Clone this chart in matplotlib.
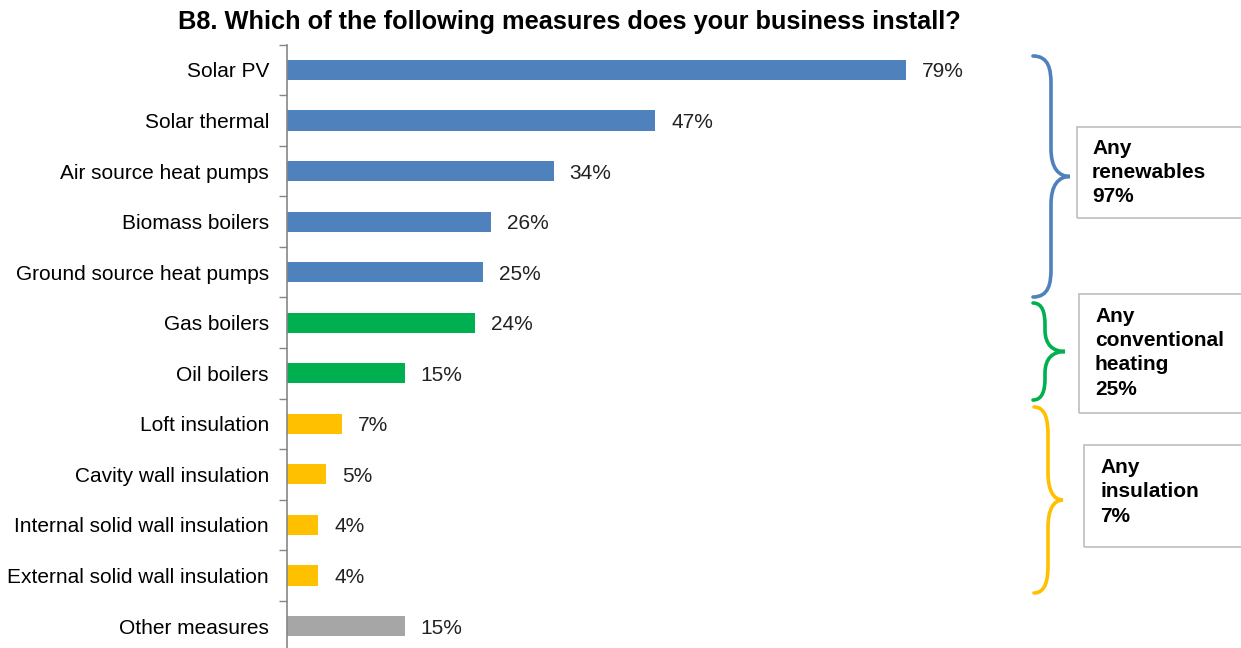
import numpy as np
import matplotlib
matplotlib.use("Agg")
from matplotlib import pyplot as plt
from matplotlib.path import Path
from matplotlib.patches import PathPatch, Rectangle

plt.rcParams['font.family'] = ['Liberation Sans', 'DejaVu Sans']

# data
measures = ["Solar PV", "Solar thermal", "Air source heat pumps", "Biomass boilers",
            "Ground source heat pumps", "Gas boilers", "Oil boilers", "Loft insulation",
            "Cavity wall insulation", "Internal solid wall insulation",
            "External solid wall insulation", "Other measures"]
values = [79, 47, 34, 26, 25, 24, 15, 7, 5, 4, 4, 15]
groups = ["ren", "ren", "ren", "ren", "ren", "conv", "conv", "ins", "ins", "ins", "ins", "other"]
group_labels = ["Any\nrenewables\n97%", "Any\nconventional\nheating\n25%", "Any\ninsulation\n7%"]

colors = {"ren": "#4F81BD", "conv": "#00B050", "ins": "#FFC000", "other": "#A6A6A6"}

W, H = 1241, 648


def fx(x):
    return x / W


def fy(y):
    return 1 - y / H


def brace(fig, x0, y0, y1, xs, xt, color):
    ym = (y0 + y1) / 2
    r = min(28, (ym - y0) * 0.45)
    pts = [
        (x0, y0),
        (xs - 2, y0), (xs, y0 + r * 0.5), (xs, y0 + r),
        (xs, ym - r),
        (xs, ym - r * 0.3), (xs + 0.4 * (xt - xs), ym), (xt, ym),
        (xs + 0.4 * (xt - xs), ym), (xs, ym + r * 0.3), (xs, ym + r),
        (xs, y1 - r),
        (xs, y1 - r * 0.5), (xs - 2, y1), (x0, y1),
    ]
    codes = [Path.MOVETO,
             Path.CURVE4, Path.CURVE4, Path.CURVE4,
             Path.LINETO,
             Path.CURVE4, Path.CURVE4, Path.CURVE4,
             Path.CURVE4, Path.CURVE4, Path.CURVE4,
             Path.LINETO,
             Path.CURVE4, Path.CURVE4, Path.CURVE4]
    p = Path([(fx(a), fy(b)) for a, b in pts], codes)
    fig.patches.append(PathPatch(p, fill=False, edgecolor=color, lw=2.6,
                                 transform=fig.transFigure, capstyle='round'))


def box(fig, x0, y0, x1, y1, tx, ty, text):
    fig.patches.append(Rectangle((fx(x0), fy(y1)), fx(x1 - x0), (y1 - y0) / H,
                                 fill=False, edgecolor="#BFBFBF", lw=1.2,
                                 transform=fig.transFigure))
    fig.text(fx(tx), fy(ty), text, fontsize=15, fontweight='bold', va='top',
             ha='left', linespacing=1.35)


fig = plt.figure(figsize=(W / 100, H / 100), dpi=100)
ax_top, ax_bot = 44.7, 651.3
ax = fig.add_axes([fx(287), fy(ax_bot), fx(1010 - 287), (ax_bot - ax_top) / H])

y = np.arange(len(measures))
ax.barh(y, values, height=0.4, color=[colors[g] for g in groups])
for yi, v in zip(y, values):
    ax.text(v + 2, yi, f"{v}%", va='center_baseline', ha='left', fontsize=15, color='#222222')

ax.set_ylim(len(measures) - 0.5, -0.5)
ax.set_xlim(0, (1010 - 287) / 7.84)
ax.set_yticks(y)
ax.set_yticklabels(measures, fontsize=15)
ax.set_yticks(np.arange(len(measures) + 1) - 0.5, minor=True)
ax.tick_params(axis='y', which='major', length=0, pad=13)
ax.tick_params(axis='y', which='minor', length=6, color='#868686', width=1)
ax.set_xticks([])
for s in ["top", "right", "bottom"]:
    ax.spines[s].set_visible(False)
ax.spines["left"].set_color('#868686')
ax.spines["left"].set_linewidth(1.2)

fig.text(fx(569), fy(22), "B8. Which of the following measures does your business install?",
         ha='center', va='center', fontsize=18.3, fontweight='bold')

brace(fig, 1033, 56, 297, 1051, 1070, colors["ren"])
brace(fig, 1033, 303, 400, 1045, 1065, colors["conv"])
brace(fig, 1034, 407, 593, 1048, 1063, colors["ins"])

box(fig, 1077, 127, 1250, 218, 1092, 139, group_labels[0])
box(fig, 1079, 294, 1250, 413, 1095, 307, group_labels[1])
box(fig, 1084, 445, 1250, 547, 1100, 458, group_labels[2])

fig.savefig("out.png", dpi=100)
